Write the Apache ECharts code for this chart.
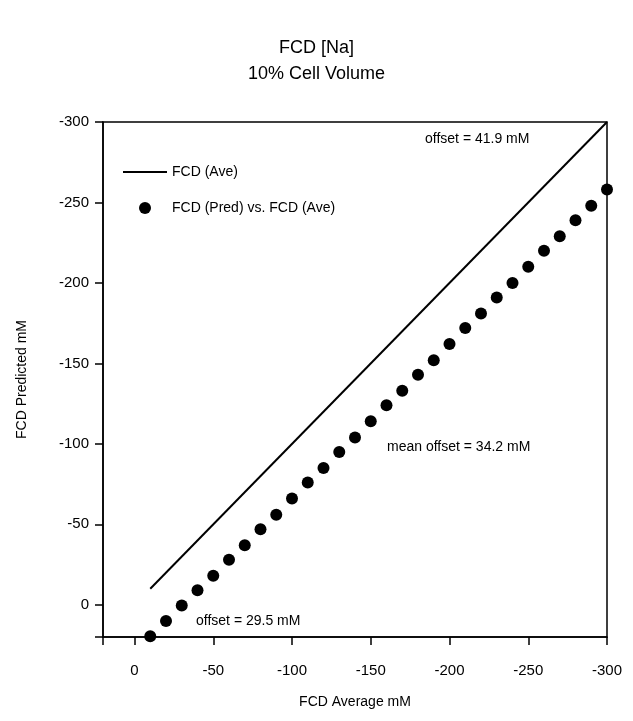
<!DOCTYPE html>
<html>
<head>
<meta charset="utf-8">
<script src="https://cdn.jsdelivr.net/npm/echarts@6/dist/echarts.min.js"></script>
<style>
  html, body { margin: 0; padding: 0; background: #fff; }
  #main { width: 633px; height: 721px; }
</style>
</head>
<body>
<div id="main"></div>
<script>
// data
var aveX = [-10, -20, -30, -40, -50, -60, -70, -80, -90, -100,
  -110, -120, -130, -140, -150, -160, -170, -180, -190, -200,
  -210, -220, -230, -240, -250, -260, -270, -280, -290, -300]
var predY = [19.5, 10, 0.5, -9, -18, -28, -37, -47, -56, -66,
  -76, -85, -95, -104, -114, -124, -133, -143, -152, -162,
  -172, -181, -191, -200, -210, -220, -229, -239, -248, -258]
var lineX = [-10, -300]
var lineY = [-10, -300]
var tickValues = [0, -50, -100, -150, -200, -250, -300]

var font = 'Liberation Sans'
var main = document.getElementById('main')
var myChart = echarts.init(main)

function pairs (xs, ys) {
  return xs.map(function (x, i) { return [x, ys[i]] })
}

var axisCommon = {
  type: 'value',
  inverse: true,
  min: -300,
  max: 20,
  interval: 50,
  nameLocation: 'middle',
  nameTextStyle: { color: '#000', fontSize: 14, fontFamily: font },
  axisLine: { show: true, onZero: false, lineStyle: { color: '#000', width: 1.5 } },
  axisTick: { show: true, length: 8, lineStyle: { color: '#000', width: 1.5 } },
  axisLabel: { color: '#000', fontSize: 15, fontFamily: font, customValues: tickValues },
  splitLine: { show: false }
}

myChart.setOption({
  backgroundColor: '#fff',
  animation: false,
  title: {
    text: 'FCD [Na]\n10% Cell Volume',
    left: 'center',
    top: 30,
    textStyle: { color: '#000', fontSize: 18, fontWeight: 'normal', fontFamily: font, lineHeight: 26 }
  },
  grid: {
    left: 103,
    right: 26,
    top: 122,
    bottom: 84,
    show: true,
    borderColor: '#000',
    borderWidth: 1.5
  },
  legend: {
    orient: 'vertical',
    left: 118,
    top: 160,
    itemWidth: 44,
    itemHeight: 12,
    itemGap: 22,
    textStyle: { color: '#000', fontSize: 14, fontFamily: font },
    data: [
      { name: 'FCD (Ave)', icon: 'path://M0,0 L44,0 L44,2 L0,2 Z' },
      { name: 'FCD (Pred) vs. FCD (Ave)', icon: 'circle' }
    ]
  },
  xAxis: Object.assign({}, axisCommon, {
    name: 'FCD Average mM',
    nameGap: 58,
    axisLabel: Object.assign({}, axisCommon.axisLabel, { margin: 26 })
  }),
  yAxis: Object.assign({}, axisCommon, {
    name: 'FCD Predicted mM',
    nameGap: 74,
    axisLabel: Object.assign({}, axisCommon.axisLabel, { margin: 14 })
  }),
  graphic: [
    { type: 'text', left: 425, top: 132, style: { text: 'offset = 41.9 mM', fill: '#000', fontSize: 14, fontFamily: font } },
    { type: 'text', left: 387, top: 440, style: { text: 'mean offset = 34.2 mM', fill: '#000', fontSize: 14, fontFamily: font } },
    { type: 'text', left: 196, top: 614, style: { text: 'offset = 29.5 mM', fill: '#000', fontSize: 14, fontFamily: font } }
  ],
  series: [
    {
      name: 'FCD (Ave)',
      type: 'line',
      data: pairs(lineX, lineY),
      symbol: 'none',
      lineStyle: { color: '#000', width: 2 },
      itemStyle: { color: '#000' },
      z: 2
    },
    {
      name: 'FCD (Pred) vs. FCD (Ave)',
      type: 'scatter',
      data: pairs(aveX, predY),
      symbolSize: 12,
      itemStyle: { color: '#000', opacity: 1 },
      z: 3
    }
  ]
})
</script>
</body>
</html>
